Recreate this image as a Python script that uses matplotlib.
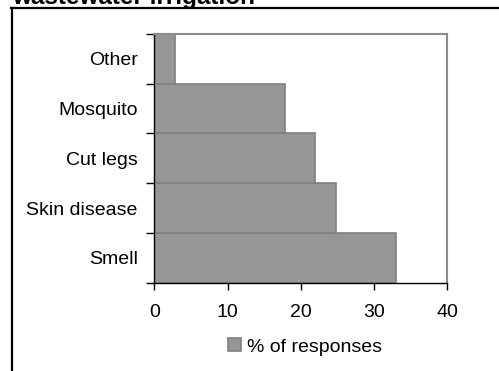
import numpy as np
import matplotlib.pyplot as plt
from matplotlib.lines import Line2D

plt.rcParams['font.family'] = ['Liberation Sans', 'DejaVu Sans']

categories = ['Smell', 'Skin disease', 'Cut legs', 'Mosquito', 'Other']
responses = [33.0, 24.8, 22.0, 17.8, 2.8]
xticks = [0, 10, 20, 30, 40]

W, H = 499, 371
fig = plt.figure(figsize=(W/100, H/100), dpi=100)

# plot area in pixels: left 154, right 447, top 34, bottom 283
ax = fig.add_axes([154.3/W, 1 - 282.7/H, (447.3-154.3)/W, (282.7-34)/H])
y = np.arange(len(categories))
ax.barh(y, responses, height=1.0, color='#969696', edgecolor='#7f7f7f', linewidth=1.2,
        label='% of responses')
ax.set_xlim(0, 40)
ax.set_ylim(-0.5, len(categories) - 0.5)
ax.set_xticks(xticks)
ax.set_xticklabels([str(v) for v in xticks], fontsize=14)
ax.set_yticks(y)
ax.set_yticklabels(categories, fontsize=14)
ax.set_yticks(np.arange(len(categories) + 1) - 0.5, minor=True)
ax.tick_params(axis='y', which='major', length=0, pad=12)
ax.tick_params(axis='y', which='minor', length=6, width=1, color='black', direction='out')
ax.tick_params(axis='x', length=5, width=1, direction='out', pad=10)
for side in ['top', 'right']:
    ax.spines[side].set_color('#8c8c8c')
    ax.spines[side].set_linewidth(1.5)
for side in ['left', 'bottom']:
    ax.spines[side].set_color('black')
    ax.spines[side].set_linewidth(1)

leg = fig.legend(loc='center', bbox_to_anchor=(305/W, 1 - 347/H), frameon=False,
                 fontsize=14, handlelength=0.65, handleheight=0.65, handletextpad=0.3)

fig.text(12/W, 1 - 4/H, 'wastewater irrigation', fontsize=17.5, fontweight='bold',
         va='baseline', ha='left')

fig.add_artist(Line2D([11/W, 1], [1 - 8/H, 1 - 8/H], color='black', lw=1.6,
                      transform=fig.transFigure))
fig.add_artist(Line2D([12/W, 12/W], [0, 1 - 8/H], color='black', lw=1.6,
                      transform=fig.transFigure))

fig.savefig('out.png', dpi=100)
